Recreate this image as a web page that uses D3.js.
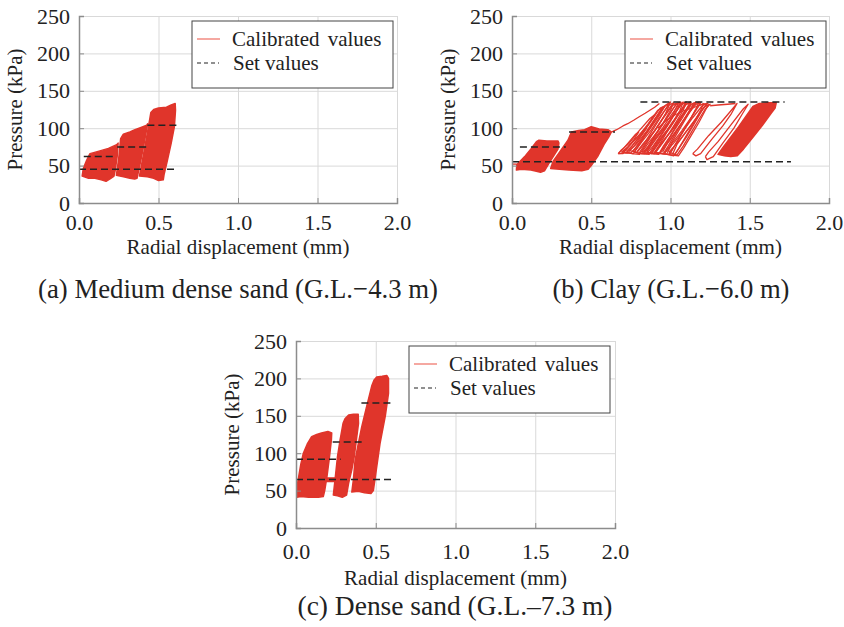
<!DOCTYPE html>
<html>
<head>
  <meta charset="utf-8">
  <script src="https://d3js.org/d3.v7.min.js"></script>
  <style>
    body { margin: 0; background: #fff; }
    svg text { font-family: "Liberation Serif", "Times New Roman", serif; fill: #222; }
    .grid line { stroke: #d9d9d9; }
    .grid .domain { display: none; }
    .axis .domain { stroke: #8c8c8c; stroke-width: 1.5; }
    .axis line { stroke: #8c8c8c; }
  </style>
</head>
<body>
<svg width="844" height="627"></svg>
<script>
// ---- data (mm, kPa) ----
var xTicks = [0, 0.5, 1.0, 1.5, 2.0];
var yTicks = [0, 50, 100, 150, 200, 250];
var legendNames = ["Calibrated values", "Set values"];
var captions = ["(a) Medium dense sand (G.L.\u22124.3 m)", "(b) Clay (G.L.\u22126.0 m)", "(c) Dense sand (G.L.\u20137.3 m)"];

// set values: [pressure, from x, to x]
var setA = [[45, 0.0, 0.6], [62, 0.03, 0.23], [75, 0.24, 0.43], [104, 0.43, 0.62]];
var setB = [[55, 0.0, 1.76], [75, 0.05, 0.34], [95, 0.36, 0.65], [135, 0.81, 1.72]];
var setC = [[65, 0.0, 0.6], [92, 0.0, 0.28], [115, 0.23, 0.42], [167, 0.41, 0.6]];

// dense cyclic stages, outline of the loops [x, p]
var stagesA = [
  [[0.02,36],[0.027,46],[0.048,57],[0.069,66],[0.12,69],[0.185,73],[0.237,78],[0.246,80],[0.24,62],[0.228,44],[0.22,36],[0.2,33],[0.17,29],[0.14,31],[0.1,33],[0.06,33]],
  [[0.235,37],[0.25,60],[0.262,86],[0.279,92],[0.32,95],[0.352,98],[0.39,101],[0.426,104],[0.432,106],[0.41,80],[0.39,58],[0.372,40],[0.365,33],[0.35,32],[0.32,33],[0.28,35]],
  [[0.38,36],[0.41,70],[0.432,96],[0.445,112],[0.452,121],[0.47,125],[0.5,127],[0.55,128],[0.58,131],[0.605,133],[0.607,124],[0.6,102],[0.58,80],[0.555,56],[0.535,38],[0.53,31],[0.5,30],[0.47,33],[0.43,35]]
];
var stagesB = [
  [[0.028,44],[0.03,51],[0.08,62],[0.122,73],[0.154,82],[0.17,84],[0.22,83],[0.29,83],[0.296,80],[0.29,72],[0.26,62],[0.23,52],[0.205,43],[0.18,41],[0.12,44],[0.06,45]],
  [[0.244,46],[0.26,56],[0.3,68],[0.353,84],[0.375,95],[0.42,97],[0.458,98],[0.5,102],[0.55,99],[0.605,98],[0.627,95],[0.61,88],[0.58,78],[0.54,62],[0.5,50],[0.48,45],[0.44,43],[0.36,44],[0.3,45]],
  [[1.3,65],[1.33,74],[1.38,88],[1.43,102],[1.48,117],[1.52,129],[1.56,133],[1.62,134],[1.667,134],[1.66,127],[1.635,120],[1.58,104],[1.52,88],[1.46,72],[1.42,63],[1.38,62],[1.34,63]]
];
var stagesC = [
  [[0.005,41],[0.01,60],[0.03,85],[0.046,100],[0.07,112],[0.098,122],[0.13,125],[0.16,127],[0.2,129],[0.224,127],[0.222,118],[0.21,95],[0.195,70],[0.18,50],[0.171,42],[0.14,41],[0.08,41],[0.03,42]],
  [[0.16,62],[0.245,62],[0.245,67],[0.16,67]],
  [[0.234,44],[0.245,65],[0.26,95],[0.276,117],[0.295,140],[0.307,146],[0.33,151],[0.36,152],[0.39,152],[0.392,140],[0.38,120],[0.365,95],[0.349,77],[0.33,60],[0.317,44],[0.29,41],[0.26,43]],
  [[0.35,48],[0.36,65],[0.37,90],[0.39,112],[0.412,135],[0.44,160],[0.475,190],[0.49,198],[0.506,202],[0.54,203],[0.569,204],[0.58,200],[0.58,180],[0.56,150],[0.527,113],[0.505,80],[0.485,50],[0.47,46],[0.43,47],[0.39,49]]
];

// single loops of the clay test (sparse part)
var loopsB = [
  [[0.0,52],[0.03,52]],
  [[0.63,95],[0.66,98],[0.7,103],[0.73,106],[0.77,111],[0.8,115],[0.84,120],[0.87,124],[0.9,128],[0.93,133]],
  [[0.67,66],[0.7,66],[0.73,74],[0.77,85],[0.8,95],[0.78,92],[0.74,82],[0.7,72],[0.67,66]],
  [[0.69,68],[0.73,67],[0.77,76],[0.81,88],[0.85,100],[0.83,97],[0.78,86],[0.73,75],[0.69,68]],
  [[0.67,66],[0.72,67],[0.75,74],[0.8,88],[0.85,102],[0.9,118],[0.87,113],[0.8,96],[0.74,80],[0.69,71],[0.67,66]],
  [[0.7,68],[0.75,67],[0.79,76],[0.84,92],[0.89,108],[0.93,122],[0.95,128],[0.92,124],[0.86,106],[0.8,90],[0.74,76],[0.7,68]],
  [[0.715,67],[0.765,66],[0.795,75],[0.845,92],[0.9,110],[0.94,122],[0.965,130],[0.935,127],[0.88,110],[0.82,92],[0.76,77],[0.72,69]],
  [[0.74,70],[0.79,68],[0.83,78],[0.88,95],[0.93,112],[0.97,126],[0.99,133],[0.96,129],[0.9,112],[0.85,96],[0.79,80],[0.74,70]],
  [[0.755,66],[0.805,65],[0.835,75],[0.88,90],[0.93,106],[0.97,120],[1.0,135],[0.97,131],[0.92,114],[0.86,96],[0.8,80],[0.76,68]],
  [[0.77,68],[0.82,66],[0.86,76],[0.9,90],[0.95,106],[1.0,124],[1.02,134],[0.99,131],[0.93,114],[0.88,98],[0.82,82],[0.77,68]],
  [[0.785,67],[0.835,66],[0.865,76],[0.91,92],[0.96,108],[1.01,124],[1.04,133],[1.01,130],[0.95,112],[0.9,96],[0.83,80],[0.79,69]],
  [[0.8,66],[0.85,66],[0.89,76],[0.93,88],[0.98,104],[1.02,120],[1.05,134],[1.01,132],[0.96,116],[0.91,100],[0.85,82],[0.8,66]],
  [[0.815,66],[0.865,65],[0.895,76],[0.94,90],[0.99,106],[1.03,120],[1.065,135],[1.035,132],[0.98,114],[0.92,96],[0.86,80],[0.82,68]],
  [[0.83,67],[0.88,66],[0.92,78],[0.97,94],[1.02,110],[1.06,124],[1.08,135],[1.05,131],[1.0,116],[0.95,100],[0.89,84],[0.83,67]],
  [[0.845,67],[0.895,66],[0.925,76],[0.97,92],[1.02,108],[1.06,122],[1.095,134],[1.065,131],[1.01,114],[0.95,98],[0.89,82],[0.85,69]],
  [[0.85,68],[0.9,66],[0.95,80],[1.0,96],[1.04,110],[1.08,124],[1.1,135],[1.07,133],[1.02,118],[0.97,102],[0.91,86],[0.85,68]],
  [[0.875,66],[0.925,65],[0.955,76],[1.0,90],[1.05,108],[1.09,122],[1.125,135],[1.095,132],[1.04,116],[0.98,98],[0.92,82],[0.88,68]],
  [[0.88,67],[0.93,66],[0.98,82],[1.02,96],[1.07,112],[1.11,126],[1.13,134],[1.1,132],[1.05,118],[1.0,102],[0.94,86],[0.88,67]],
  [[0.9,68],[0.96,66],[1.0,78],[1.05,96],[1.1,114],[1.14,128],[1.16,135],[1.13,131],[1.08,118],[1.02,100],[0.96,84],[0.9,68]],
  [[0.905,67],[0.955,66],[0.985,76],[1.03,92],[1.08,110],[1.12,124],[1.15,134],[1.12,131],[1.06,114],[1.01,98],[0.95,82],[0.91,69]],
  [[0.93,66],[0.99,65],[1.03,78],[1.08,96],[1.13,114],[1.17,128],[1.19,134],[1.16,132],[1.1,116],[1.05,100],[0.99,82],[0.93,66]],
  [[0.945,66],[0.995,65],[1.025,76],[1.07,92],[1.12,110],[1.16,126],[1.18,135],[1.15,132],[1.1,116],[1.04,98],[0.98,80],[0.95,68]],
  [[0.96,66],[1.02,63],[1.05,72],[1.1,88],[1.15,106],[1.2,124],[1.23,133],[1.2,130],[1.14,114],[1.08,96],[1.02,80],[0.96,66]],
  [[0.975,65],[1.025,64],[1.055,74],[1.1,90],[1.15,108],[1.19,124],[1.21,133],[1.18,130],[1.13,114],[1.07,96],[1.01,80],[0.98,67]],
  [[0.99,68],[1.04,64],[1.08,76],[1.13,94],[1.18,112],[1.22,126],[1.25,132],[1.22,130],[1.17,116],[1.11,98],[1.05,82],[0.99,68]],
  [[1.01,64],[1.05,63],[1.085,74],[1.13,90],[1.18,108],[1.22,124],[1.24,131],[1.21,128],[1.16,112],[1.1,96],[1.04,78],[1.015,66]],
  [[0.92,100],[0.97,110],[1.03,118],[1.09,124],[1.15,128],[1.2,132],[1.24,133]],
  [[1.14,66],[1.16,63],[1.19,66],[1.26,85],[1.33,103],[1.38,118],[1.42,133],[1.4,128],[1.32,108],[1.24,90],[1.17,72],[1.14,66]],
  [[1.22,62],[1.23,58],[1.27,62],[1.33,80],[1.4,100],[1.45,118],[1.49,132],[1.46,126],[1.38,104],[1.3,82],[1.24,68],[1.22,62]],
  [[1.25,130],[1.3,131],[1.36,132],[1.41,133]]
];

var svg = d3.select("svg");
var red = "#e0352b";

function drawPanel(frame, stages, loops, sets) {
  var x = d3.scaleLinear().domain([0, 2]).range([frame.left, frame.right]);
  var y = d3.scaleLinear().domain([0, 250]).range([frame.bottom, frame.top]);
  var g = svg.append("g");

  // grid
  g.append("g").attr("class", "grid")
    .attr("transform", "translate(0," + frame.bottom + ")")
    .call(d3.axisBottom(x).tickValues(xTicks).tickSize(-(frame.bottom - frame.top)).tickFormat(""));
  g.append("g").attr("class", "grid")
    .attr("transform", "translate(" + frame.left + ",0)")
    .call(d3.axisLeft(y).tickValues(yTicks).tickSize(-(frame.right - frame.left)).tickFormat(""));

  var line = d3.line().x(function(d) { return x(d[0]); }).y(function(d) { return y(d[1]); });

  // calibrated values
  g.append("g").selectAll("path").data(stages).enter().append("path")
    .attr("d", function(d) { return line(d) + "Z"; })
    .attr("fill", red).attr("stroke", red).attr("stroke-width", 1.5)
    .attr("stroke-linejoin", "round");
  g.append("g").selectAll("path").data(loops).enter().append("path")
    .attr("d", line).attr("fill", "none")
    .attr("stroke", red).attr("stroke-width", 1.3).attr("stroke-linejoin", "round");

  // set values
  g.append("g").selectAll("line").data(sets).enter().append("line")
    .attr("x1", function(d) { return x(d[1]); }).attr("x2", function(d) { return x(d[2]); })
    .attr("y1", function(d) { return y(d[0]); }).attr("y2", function(d) { return y(d[0]); })
    .attr("stroke", "#222").attr("stroke-width", 1.5).attr("stroke-dasharray", "7,4");

  // axes
  var ax = g.append("g").attr("class", "axis")
    .attr("transform", "translate(0," + frame.bottom + ")")
    .call(d3.axisBottom(x).tickValues(xTicks).tickSize(-5).tickFormat(d3.format(".1f")));
  ax.selectAll("text").attr("font-size", 22).attr("dy", 0).attr("y", frame.xPad).attr("fill", "#222");
  var ay = g.append("g").attr("class", "axis")
    .attr("transform", "translate(" + frame.left + ",0)")
    .call(d3.axisLeft(y).tickValues(yTicks).tickSize(-5).tickPadding(9));
  ay.selectAll("text").attr("font-size", 22).attr("fill", "#222");

  g.append("text")
    .attr("x", (frame.left + frame.right) / 2).attr("y", frame.bottom + frame.titlePad)
    .attr("text-anchor", "middle").attr("font-size", 21)
    .text("Radial displacement (mm)");
  g.append("text")
    .attr("transform", "translate(" + (frame.left - 57) + "," + ((frame.top + frame.bottom) / 2) + ") rotate(-90)")
    .attr("text-anchor", "middle").attr("font-size", 21)
    .text("Pressure (kPa)");

  // legend
  var lx = frame.left + 113, ly = frame.top + 5;
  g.append("rect").attr("x", lx).attr("y", ly).attr("width", 201).attr("height", 67)
    .attr("fill", "#fff").attr("stroke", "#444").attr("stroke-width", 1);
  g.append("line").attr("x1", lx + 5).attr("x2", lx + 28).attr("y1", ly + 18).attr("y2", ly + 18)
    .attr("stroke", "#f28b82").attr("stroke-width", 1.5);
  g.append("line").attr("x1", lx + 5).attr("x2", lx + 27).attr("y1", ly + 42).attr("y2", ly + 42)
    .attr("stroke", "#222").attr("stroke-width", 1.2).attr("stroke-dasharray", "4,3");
  g.append("text").attr("x", lx + 40).attr("y", ly + 25).attr("font-size", 21).attr("word-spacing", 3).text(legendNames[0]);
  g.append("text").attr("x", lx + 41).attr("y", ly + 49).attr("font-size", 21).text(legendNames[1]);

  svg.append("text")
    .attr("x", frame.capX).attr("y", frame.capY)
    .attr("text-anchor", "middle").attr("font-size", frame.capSize)
    .attr("textLength", frame.capW).attr("lengthAdjust", "spacingAndGlyphs")
    .text(frame.caption);
}

drawPanel({left: 79, right: 397, top: 16, bottom: 203, xPad: 27, titlePad: 51,
           capX: 238, capY: 298, capW: 400, capSize: 28, caption: captions[0]}, stagesA, [], setA);
drawPanel({left: 512, right: 829, top: 16, bottom: 203, xPad: 27, titlePad: 51,
           capX: 671, capY: 298, capW: 237, capSize: 28, caption: captions[1]}, stagesB, loopsB, setB);
drawPanel({left: 296, right: 615, top: 341, bottom: 528, xPad: 31, titlePad: 57,
           capX: 455, capY: 615, capW: 315, capSize: 27, caption: captions[2]}, stagesC, [], setC);
</script>
</body>
</html>
